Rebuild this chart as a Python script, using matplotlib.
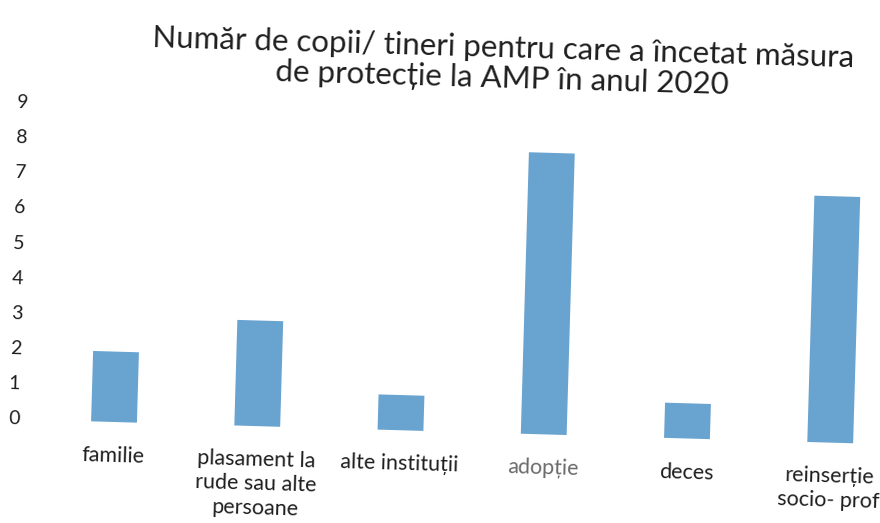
import matplotlib
matplotlib.use("Agg")
import matplotlib.pyplot as plt
import matplotlib.transforms as mtransforms

plt.rcParams['font.family'] = ['Lato', 'DejaVu Sans']

# date
categorii = ["familie", "plasament la\nrude sau alte\npersoane", "alte instituții",
             "adopție", "deces", "reinserție\nsocio- prof"]
valori = [2, 3, 1, 8, 1, 7]
yticks = list(range(0, 10))
titlu = "Număr de copii/ tineri pentru care a încetat măsura\nde protecție la AMP în anul 2020"

W, H = 880, 523
fig = plt.figure(figsize=(W / 100, H / 100), dpi=100)

# axa in cadrul "neinclinat" (pixeli)
step = 143.3   # px per categorie
unit = 35.2    # px per unitate
x0_px, y0_px = 114, H - 422
left = x0_px - 0.3 * step
ax = fig.add_axes([left / W, y0_px / H, 5.6 * step / W, 9 * unit / H])
ax.set_xlim(-0.3, 5.3)
ax.set_ylim(0, 9)
ax.axis("off")

# scanarea e usor rotita (sens orar)
unghi = -1.65
rot = mtransforms.Affine2D().rotate_deg_around(x0_px, y0_px, unghi)

x = list(range(len(categorii)))
bars = ax.bar(x, valori, width=0.32, color="#69a3d0")
for p in bars:
    p.set_transform(ax.transData + rot)
    p.set_clip_on(False)

# etichete axa y
for v in yticks:
    ax.text(-0.70, v, str(v), transform=ax.transData + rot, ha="center", va="center",
            fontsize=14, color="#1e1e1e", rotation=unghi, rotation_mode="anchor",
            clip_on=False)

# etichete categorii
for i, c in enumerate(categorii):
    col = "#6a6a6a" if c == "adopție" else "#1e1e1e"
    ax.text(i, -0.68, c, transform=ax.transData + rot, ha="center", va="top",
            fontsize=15.5, color=col, rotation=unghi, rotation_mode="anchor",
            linespacing=1.25, clip_on=False)

fig.text(492 / W, 1 - 52 / H, titlu, transform=fig.transFigure + rot, ha="center",
         va="center", fontsize=22.5, color="#1e1e1e", rotation=unghi,
         rotation_mode="anchor", linespacing=1.1)

fig.savefig("out.png", dpi=100)
